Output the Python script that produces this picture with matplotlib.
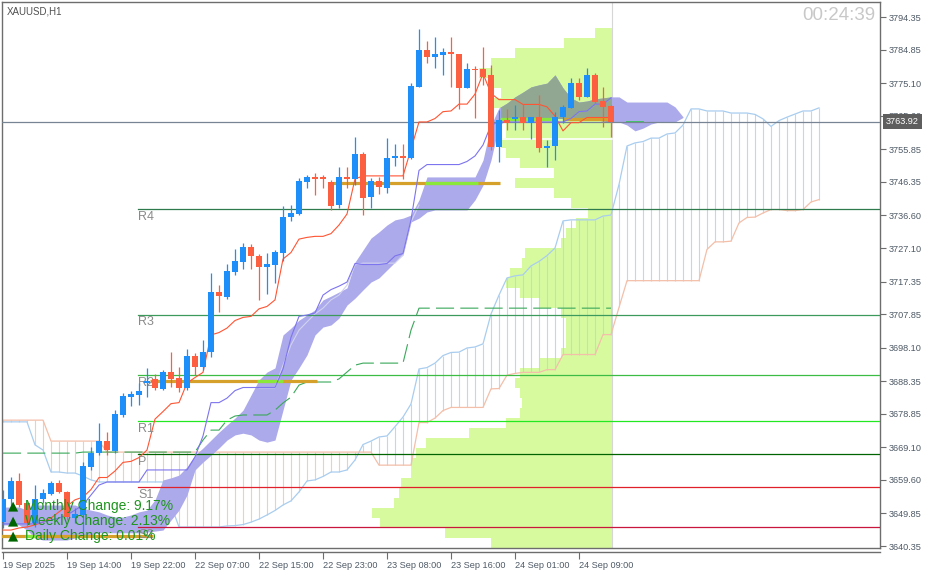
import matplotlib
matplotlib.use("Agg")
import matplotlib.pyplot as plt
from matplotlib.path import Path
from matplotlib.patches import PathPatch
from matplotlib.colors import to_rgb
import numpy as np

plt.rcParams['font.family'] = ['Liberation Sans', 'DejaVu Sans']
plt.rcParams['lines.scale_dashes'] = False

# ---------------- data ----------------
symbol = "XAUUSD,H1"
countdown = "00:24:39"
last_price = 3763.92
monthly_change = 9.17
weekly_change = 2.13
daily_change = 0.01

time_labels = ["19 Sep 2025", "19 Sep 14:00", "19 Sep 22:00", "22 Sep 07:00", "22 Sep 15:00",
               "22 Sep 23:00", "23 Sep 08:00", "23 Sep 16:00", "24 Sep 01:00", "24 Sep 09:00"]
time_label_bars = [0, 8, 16, 24, 32, 40, 48, 56, 64, 72]
price_ticks = [3794.35, 3784.85, 3775.10, 3765.60, 3755.85, 3746.35, 3736.60, 3727.10, 3717.35,
               3707.85, 3698.10, 3688.35, 3678.85, 3669.10, 3659.60, 3649.85, 3640.35]

opens = [3647.3, 3654.0, 3659.3, 3652.9, 3647.1, 3654.0, 3655.5, 3658.7, 3656.1, 3648.5,
         3649.4, 3663.4, 3667.4, 3670.9, 3668.0, 3678.5, 3683.7, 3684.3, 3687.8, 3689.0,
         3686.1, 3691.0, 3689.3, 3686.3, 3695.7, 3692.5, 3696.8, 3714.3, 3712.8, 3720.1,
         3723.0, 3727.4, 3724.8, 3721.6, 3722.2, 3725.7, 3736.1, 3737.0, 3746.3, 3747.8,
         3747.8, 3746.3, 3739.6, 3747.8, 3747.2, 3754.5, 3741.9, 3746.6, 3744.6, 3753.3,
         3753.9, 3753.3, 3774.0, 3784.7, 3782.7, 3783.3, 3784.2, 3783.6, 3773.7, 3779.2,
         3779.2, 3777.5, 3756.5, 3764.4, 3764.7, 3765.2, 3763.5, 3765.2, 3756.2, 3756.8,
         3765.2, 3767.9, 3775.1, 3771.1, 3777.5, 3769.9, 3768.4]
highs = [3656.7, 3660.4, 3661.6, 3653.2, 3658.1, 3656.9, 3659.3, 3659.6, 3656.4, 3651.4,
         3664.8, 3669.2, 3676.2, 3673.5, 3679.9, 3684.9, 3685.5, 3687.8, 3692.2, 3690.4,
         3691.6, 3696.8, 3692.5, 3697.7, 3696.5, 3700.3, 3719.8, 3716.3, 3722.4, 3726.8,
         3728.6, 3728.3, 3725.4, 3725.7, 3726.5, 3739.3, 3739.6, 3747.5, 3748.4, 3748.9,
         3748.4, 3746.9, 3750.7, 3750.7, 3759.4, 3755.1, 3747.5, 3747.8, 3759.1, 3757.4,
         3757.4, 3775.1, 3790.9, 3787.4, 3788.5, 3785.3, 3788.5, 3783.6, 3781.0, 3780.1,
         3785.6, 3780.4, 3767.3, 3767.6, 3768.7, 3769.0, 3765.2, 3771.6, 3758.5, 3766.7,
         3768.7, 3776.6, 3776.6, 3779.5, 3778.0, 3774.0, 3768.7]
lows = [3645.6, 3651.7, 3651.7, 3645.9, 3645.9, 3652.9, 3655.2, 3655.8, 3647.9, 3647.1,
        3644.4, 3662.5, 3666.8, 3666.8, 3667.4, 3677.9, 3681.1, 3681.4, 3683.7, 3685.8,
        3685.8, 3686.6, 3685.2, 3685.8, 3690.1, 3691.6, 3695.4, 3708.5, 3712.3, 3719.2,
        3721.0, 3721.0, 3712.0, 3713.7, 3716.9, 3723.3, 3735.0, 3736.7, 3744.6, 3742.5,
        3744.6, 3738.2, 3738.7, 3744.6, 3745.4, 3736.7, 3738.7, 3742.8, 3743.1, 3751.0,
        3747.2, 3753.0, 3774.0, 3781.0, 3779.5, 3777.5, 3774.0, 3767.6, 3773.7, 3764.9,
        3774.6, 3755.6, 3752.1, 3761.5, 3761.5, 3761.5, 3758.8, 3755.1, 3750.7, 3752.7,
        3763.5, 3767.9, 3770.2, 3771.1, 3769.3, 3762.3, 3759.4]
closes = [3654.0, 3659.3, 3652.3, 3647.1, 3654.0, 3655.8, 3658.7, 3656.1, 3648.8, 3649.7,
          3663.6, 3667.4, 3670.9, 3668.3, 3678.8, 3684.0, 3684.6, 3685.5, 3688.4, 3686.3,
          3691.0, 3689.0, 3686.3, 3695.7, 3692.5, 3696.8, 3714.3, 3713.1, 3720.4, 3723.3,
          3727.4, 3724.8, 3721.6, 3722.4, 3725.9, 3736.1, 3737.3, 3746.6, 3747.8, 3747.2,
          3747.2, 3739.3, 3747.8, 3747.2, 3754.5, 3741.7, 3746.6, 3744.9, 3753.3, 3753.9,
          3753.3, 3774.3, 3784.7, 3782.7, 3783.6, 3784.2, 3783.6, 3773.7, 3779.2, 3778.9,
          3776.9, 3756.5, 3764.4, 3763.5, 3765.2, 3763.5, 3765.2, 3756.2, 3756.8, 3765.2,
          3768.2, 3775.1, 3771.1, 3777.5, 3769.6, 3768.2, 3763.92]

tenkan = [3645.0, 3645.0, 3645.6, 3645.9, 3646.5, 3647.3, 3648.5, 3650.3, 3652.0, 3653.8,
          3654.6, 3656.8, 3660.3, 3660.3, 3662.2, 3664.7, 3665.0, 3666.1, 3668.3, 3677.3,
          3679.5, 3681.8, 3682.1, 3687.8, 3689.4, 3690.9, 3701.8, 3702.5, 3703.8, 3706.0,
          3706.9, 3707.2, 3709.4, 3710.1, 3712.0, 3723.9, 3725.8, 3729.7, 3730.2, 3730.5,
          3730.5, 3731.3, 3733.8, 3737.0, 3747.2, 3748.1, 3748.1, 3748.1, 3748.1, 3748.1,
          3748.1, 3755.9, 3763.8, 3763.8, 3764.8, 3766.8, 3767.0, 3769.0, 3769.0, 3771.9,
          3777.9, 3772.1, 3770.3, 3770.3, 3770.3, 3768.9, 3768.9, 3768.9, 3768.2, 3765.5,
          3761.2, 3763.6, 3763.6, 3765.1, 3765.1, 3765.1, 3765.1]
kijun = [3646.8, 3646.8, 3646.8, 3646.8, 3646.8, 3647.3, 3647.9, 3648.5, 3649.4, 3650.8,
         3652.3, 3655.2, 3658.1, 3659.0, 3659.0, 3659.0, 3659.0, 3659.0, 3662.5, 3662.5,
         3662.5, 3662.5, 3662.5, 3662.5, 3666.3, 3672.4, 3682.1, 3682.1, 3683.4, 3685.6,
         3686.5, 3686.5, 3686.5, 3686.5, 3686.5, 3691.9, 3701.1, 3707.2, 3707.6, 3708.2,
         3713.4, 3715.0, 3716.0, 3717.2, 3722.6, 3722.3, 3722.3, 3722.3, 3722.6, 3724.8,
         3725.5, 3735.3, 3749.7, 3751.4, 3751.4, 3751.4, 3751.4, 3751.4, 3752.3, 3753.9,
         3757.1, 3762.9, 3763.8, 3763.8, 3763.8, 3763.8, 3763.8, 3763.8, 3763.8, 3763.8,
         3763.8, 3764.8, 3766.8, 3767.0, 3769.0, 3769.0, 3770.8]

# Senkou spans (already shifted 26 bars ahead: 103 positions)
senkou_a = [3676.5, 3676.5, 3676.5, 3676.5, 3669.8, 3668.3, 3661.9, 3661.9, 3661.6, 3661.6,
            3660.7, 3659.6, 3659.0, 3659.0, 3659.0, 3659.0, 3659.0, 3659.0, 3659.0, 3659.0,
            3659.0, 3652.3, 3645.9, 3645.9, 3645.9, 3645.9, 3645.9, 3645.9, 3646.2, 3646.3,
            3646.6, 3647.3, 3648.2, 3649.4, 3650.7, 3652.3, 3653.5, 3656.1, 3659.3, 3659.6,
            3660.6, 3661.9, 3661.9, 3662.5, 3665.4, 3669.9, 3670.9, 3672.1, 3672.4, 3675.1,
            3677.9, 3681.7, 3691.9, 3692.3, 3693.6, 3695.8, 3696.7, 3696.8, 3698.0, 3698.3,
            3699.2, 3707.9, 3713.4, 3718.4, 3719.0, 3719.3, 3721.9, 3723.2, 3724.9, 3727.1,
            3735.0, 3735.3, 3735.3, 3735.3, 3735.3, 3736.4, 3736.7, 3745.6, 3756.8, 3757.7,
            3758.1, 3759.1, 3759.1, 3760.3, 3760.6, 3762.9, 3767.6, 3767.6, 3767.0, 3767.0,
            3767.0, 3766.4, 3766.4, 3766.4, 3766.0, 3764.7, 3762.5, 3764.2, 3765.2, 3766.1,
            3767.0, 3767.0, 3767.9]
senkou_b = ([3677.0] * 6 + [3670.9] * 7 + [3667.7] * 34 + [3663.9] * 5 +
            [3676.3, 3676.3, 3677.6, 3679.8, 3680.7, 3680.7, 3680.7, 3680.7, 3680.7,
             3686.1, 3686.2, 3690.1, 3690.6, 3690.9, 3690.9, 3690.9, 3691.7, 3691.7,
             3696.1, 3696.1, 3696.1, 3696.1, 3696.1, 3701.9, 3701.9, 3709.8] +
            [3717.6] * 10 +
            [3726.7, 3728.9, 3728.9, 3729.1, 3734.4, 3736.0, 3736.1, 3737.3, 3738.3,
             3738.3, 3738.0, 3738.0, 3738.3, 3740.5, 3741.2])

# filled band (second cloud)
band_top = [3651.7, 3651.7, 3651.7, 3650.8, 3652.3, 3652.3, 3652.3, 3652.3, 3652.3, 3652.3,
            3651.4, 3650.8, 3650.3, 3649.4, 3648.8, 3648.8, 3649.4, 3650.3, 3650.8, 3653.8,
            3659.6, 3660.2, 3661.0, 3663.4, 3666.8, 3668.9, 3671.2, 3673.5, 3675.6, 3677.6,
            3679.9, 3684.3, 3688.7, 3691.0, 3692.2, 3701.8, 3703.8, 3706.1, 3707.6, 3709.1,
            3712.0, 3713.1, 3714.3, 3715.5, 3723.0, 3726.5, 3730.0, 3731.8, 3733.8, 3735.3,
            3735.8, 3736.7, 3741.1, 3747.8, 3747.8, 3747.8, 3747.8, 3747.8, 3747.8, 3747.8,
            3752.7, 3762.9, 3767.9, 3769.3, 3771.1, 3772.5, 3774.0, 3774.6, 3775.1, 3777.5,
            3773.7, 3770.8, 3769.6, 3769.9, 3770.5, 3770.8, 3771.1, 3771.1, 3769.6, 3769.6,
            3769.6, 3769.6, 3769.6, 3769.6, 3768.2, 3765.3]
band_bottom = [3646.5, 3646.5, 3646.5, 3645.0, 3642.7, 3642.1, 3642.1, 3642.1, 3642.1, 3642.7,
               3643.6, 3643.6, 3644.2, 3644.2, 3644.2, 3644.2, 3644.2, 3644.2, 3644.4, 3644.7,
               3645.0, 3647.9, 3650.8, 3655.2, 3662.5, 3664.8, 3666.8, 3668.9, 3671.2, 3672.7,
               3673.2, 3672.7, 3671.2, 3670.6, 3671.2, 3679.9, 3688.7, 3692.2, 3696.0, 3701.8,
               3704.1, 3704.7, 3706.7, 3710.5, 3712.5, 3714.9, 3717.2, 3718.4, 3720.7, 3723.0,
               3725.1, 3734.7, 3735.8, 3737.6, 3738.2, 3738.2, 3738.2, 3738.2, 3738.2, 3741.1,
               3745.4, 3752.7, 3762.9, 3764.4, 3764.9, 3764.9, 3764.9, 3764.9, 3764.9, 3764.9,
               3764.9, 3764.9, 3764.7, 3764.7, 3764.4, 3764.1, 3763.8, 3763.8, 3762.9, 3761.2,
               3762.0, 3763.2, 3763.8, 3763.8, 3763.8, 3765.1]
band_mid_start = 32
band_mid = [3686.4, 3686.4, 3686.4, 3693.0, 3698.9, 3703.2, 3705.6, 3707.9, 3709.6, 3712.0,
            3713.4, 3716.3, 3722.2, 3722.7, 3722.7, 3722.7, 3722.7, 3722.7, 3725.1, 3734.7,
            3739.6]

green_step = ([3667.4] * 10 + [3667.7] * 15 + [3671.2, 3674.1, 3674.1, 3677.0, 3678.2] +
              [3678.5] * 4 + [3679.9, 3682.0, 3683.7, 3687.2] + [3688.1] * 4 +
              [3689.0, 3691.0, 3693.0] + [3693.6] * 6 + [3703.2] + [3709.6] * 25)

pivot_names = ["R4", "R3", "R2", "R1", "P", "S1", "S2"]
pivot_levels = [3738.4, 3707.6, 3690.0, 3676.7, 3667.1, 3657.4, 3645.8]

poc_levels = [3746.0, 3688.4, 3764.8, 3643.3]
poc_from = [41.25, 18.4, 70.0, -0.5]
poc_to = [62.1, 39.25, 76.1, 18.75]
poc_hi_from = [52.75, 31.75, 62.1, 2.75]
poc_hi_to = [59.4, 35.0, 68.75, 4.25]

profile_top = 3791.15
profile_step = 2.911
profile_vol = [7, 20, 40, 50, 55, 50, 46, 50, 46, 44, 44, 46, 44, 38, 24, 40, 24, 17, 10, 15,
               19, 21, 36, 37, 42, 44, 38, 30, 21, 19, 19, 19, 21, 30, 38, 40, 38, 37, 38, 44,
               59, 77, 81, 83, 83, 87, 88, 90, 99, 96, 69, 50]
value_area_line = 3758.8

# ---------------- styles ----------------
BULL = '#1e8ef8'
BEAR = '#fc5f3f'
TENKAN_C = '#ff5533'
KIJUN_C = '#7d74ef'
SPAN_A_C = '#a9cdef'
SPAN_B_C = '#f3bfa9'
HATCH_A = '#bcd8f4'
HATCH_B = '#f4ccbd'
BAND_C = '#acaaea'
PROF_C = '#d7fa9f'
GOLD_C = '#d6a12a'
HILITE_C = '#8ae83a'
STEP_C = '#3aa85a'
PIVOT_C = ['#2f7a4c', '#3c9a5c', '#3cbc44', '#22e822', '#006400', '#e0202a', '#c8163c']
AXIS_C = '#6d6d6d'
LABEL_C = '#4f5a66'

W, H = 926, 575
fig = plt.figure(figsize=(W / 100, H / 100), dpi=100)
def fx(px): return px / W
def fy(py): return 1 - py / H

ax = fig.add_axes([fx(2), fy(548), fx(880) - fx(2), fy(2) - fy(548)])
n = len(opens)
bars = np.arange(n)
ax.set_xlim(-0.125, 109.625)
ax.set_ylim(3639.78, 3798.72)
ax.set_facecolor('white')

# volume profile
prof_right = n - 1 + 0.125
centers = profile_top - (np.arange(len(profile_vol)) + 0.5) * profile_step
widths = np.array(profile_vol) * 0.3025
verts, codes = [], []
for cy, w in zip(centers, widths):
    x0, x1 = prof_right - w, prof_right
    y0, y1 = cy - profile_step / 2, cy + profile_step / 2
    verts += [(x0, y0), (x1, y0), (x1, y1), (x0, y1), (x0, y0)]
    codes += [Path.MOVETO, Path.LINETO, Path.LINETO, Path.LINETO, Path.CLOSEPOLY]
prof_path = Path(verts, codes)
ax.add_patch(PathPatch(prof_path, facecolor=PROF_C, edgecolor='none', zorder=1))
ax.axvline(prof_right, color='#d6d6d6', lw=0.8, zorder=1.2)

# Ichimoku hatched cloud
a = np.array(senkou_a); b = np.array(senkou_b)
jx = np.arange(len(a))
hcols = [HATCH_A if ai >= bi else HATCH_B for ai, bi in zip(a, b)]
ax.vlines(jx, np.minimum(a, b), np.maximum(a, b), colors=hcols, lw=0.8, zorder=2)
ax.plot(jx, a, color=SPAN_A_C, lw=0.9, zorder=2.2)
ax.plot(jx, b, color=SPAN_B_C, lw=0.9, zorder=2.2)

# filled band
bx = np.arange(len(band_top))
ax.fill_between(bx, band_bottom, band_top, color=BAND_C, lw=0, zorder=3)
mult = tuple(np.array(to_rgb(BAND_C)) * np.array(to_rgb(PROF_C)))
ov = ax.fill_between(bx, band_bottom, band_top, color=mult, lw=0, zorder=3.1)
ov.set_clip_path(prof_path, ax.transData)
ax.plot(np.arange(band_mid_start, band_mid_start + len(band_mid)), band_mid,
        color='#d2d2f0', lw=0.8, zorder=3.2)

# pivots
for name, lev, col in zip(pivot_names, pivot_levels, PIVOT_C):
    ax.plot([16.875, 109.625], [lev, lev], color=col, lw=0.9, zorder=4)
    ax.text(16.875, lev - 0.4, name, ha='left', va='top', fontsize=9, color='#8a8a8a', zorder=5.5)

# step line
ax.plot(bars, green_step, color=STEP_C, lw=0.8, ls=(0, (13, 4.5)), zorder=4.2)

# POC lines
for lev, f, t, hf, ht in zip(poc_levels, poc_from, poc_to, poc_hi_from, poc_hi_to):
    ax.plot([f, t], [lev, lev], color=GOLD_C, lw=2.3, solid_capstyle='butt', zorder=4.5)
    ax.plot([hf, ht], [lev, lev], color=HILITE_C, lw=2.3, solid_capstyle='butt', zorder=4.6)
ax.plot([78.0, 80.0], [3763.8, 3763.8], color='#3cc864', lw=1.4, zorder=4.6)
ax.plot([60.0, prof_right], [value_area_line, value_area_line], color='white', lw=1.2, zorder=1.5)

# current price line
ax.axhline(last_price, color='#778493', lw=0.9, zorder=4.7)

# Tenkan / Kijun
ax.plot(bars, tenkan, color=TENKAN_C, lw=0.8, zorder=5)
ax.plot(bars, kijun, color=KIJUN_C, lw=0.8, zorder=5)

# candles
o = np.array(opens); c = np.array(closes); h = np.array(highs); l = np.array(lows)
cols = np.where(c >= o, BULL, BEAR)
ax.vlines(bars, l, h, colors=cols, lw=0.9, zorder=6)
body_lo = np.minimum(o, c)
body_h = np.maximum(np.abs(c - o), 0.4)
ax.bar(bars, body_h, bottom=body_lo, width=0.68, color=cols, lw=0, zorder=6.1)

# axes styling
ax.set_xticks([])
for s in ax.spines.values():
    s.set_color(AXIS_C); s.set_linewidth(1.0)
ax.yaxis.tick_right()
ax.set_yticks(price_ticks)
ax.set_yticklabels([f"{v:.2f}" for v in price_ticks])
ax.tick_params(axis='y', direction='out', length=4, width=0.8, color=AXIS_C,
               labelsize=6.6, labelcolor=LABEL_C, pad=2)

# time axis
tax = fig.add_axes([fx(2), fy(552), fx(880) - fx(2), 1e-4])
tax.set_xlim(-0.125, 109.625)
tax.set_yticks([])
for k, s in tax.spines.items():
    s.set_visible(k == 'top')
tax.spines['top'].set_color(AXIS_C)
tax.spines['top'].set_linewidth(1.0)
tax.set_xticks(time_label_bars)
tax.set_xticklabels(time_labels)
tax.tick_params(axis='x', direction='out', length=5, width=0.8, color=AXIS_C,
                labelsize=6.6, labelcolor=LABEL_C, pad=1.5)
for lab in tax.get_xticklabels():
    lab.set_ha('left')

# price box
ax.annotate(f"{last_price:.2f}", xy=(1, last_price), xycoords=('axes fraction', 'data'),
            xytext=(6, 0), textcoords='offset pixels', ha='left', va='center',
            fontsize=6.6, color='white', annotation_clip=False, zorder=10,
            bbox=dict(boxstyle='square,pad=0.3', fc='#5e5e5e', ec='none'))

# texts
fig.text(fx(7), fy(11), symbol, ha='left', va='center', fontsize=7, color='#505050')
fig.text(fx(875), fy(15), countdown, ha='right', va='center', fontsize=13.5, color='#c8c8c8')
changes = [("Monthly Change", monthly_change, 506), ("Weekly Change", weekly_change, 521),
           ("Daily Change", daily_change, 536)]
for name, val, ypx in changes:
    fig.text(fx(8), fy(ypx), "\u25b2", ha='left', va='center', fontsize=9.5,
             color='#006400', family=['DejaVu Sans'], zorder=20)
    fig.text(fx(25), fy(ypx), f"{name}: {val:.2f}%", ha='left', va='center', fontsize=10,
             color='#1e941e', zorder=20)

fig.savefig("out.png", dpi=100)
